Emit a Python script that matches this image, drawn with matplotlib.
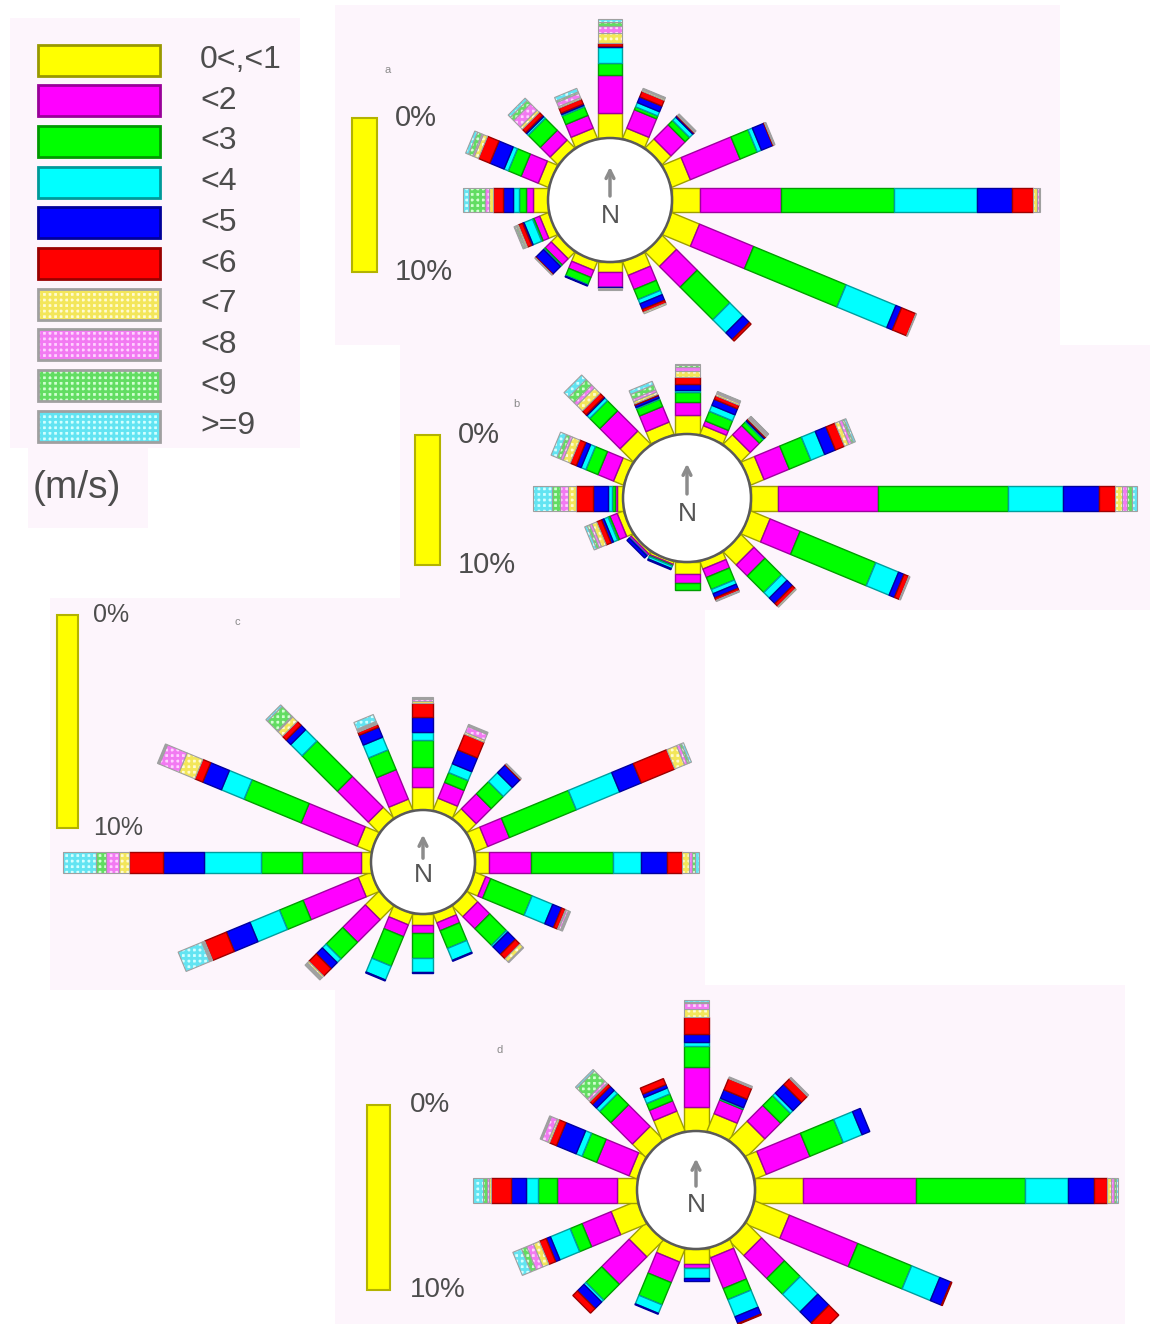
import matplotlib.pyplot as plt
import numpy as np
from matplotlib.colors import to_rgb
from matplotlib.patches import Polygon, Rectangle, Circle

plt.rcParams['font.family'] = ['Liberation Sans', 'DejaVu Sans']
plt.rcParams['hatch.linewidth'] = 2.0

# ---- data -------------------------------------------------------------
speed_classes = ['0<,<1', '<2', '<3', '<4', '<5', '<6', '<7', '<8', '<9', '>=9']
directions = ['N', 'NNE', 'NE', 'ENE', 'E', 'ESE', 'SE', 'SSE',
              'S', 'SSW', 'SW', 'WSW', 'W', 'WNW', 'NW', 'NNW']

# frequency (%) per direction, one column per speed class
rose_a = [
    [1.6, 2.5, 0.8, 1.0, 0.1, 0.2, 0.6, 0.5, 0.25, 0.2],
    [0.7, 1.3, 0.2, 0.3, 0.4, 0.4, 0.1, 0.05, 0.05, 0.0],
    [0.8, 1.3, 0.4, 0.3, 0.1, 0.05, 0.05, 0.05, 0.05, 0.0],
    [1.3, 3.5, 1.2, 0.3, 0.8, 0.05, 0.05, 0.05, 0.0, 0.0],
    [1.8, 5.3, 7.3, 5.4, 2.3, 1.35, 0.25, 0.1, 0.05, 0.05],
    [1.95, 3.8, 6.5, 3.5, 0.4, 1.0, 0.05, 0.0, 0.0, 0.0],
    [1.3, 1.9, 3.0, 1.2, 0.6, 0.15, 0.0, 0.0, 0.0, 0.0],
    [0.95, 1.0, 0.7, 0.3, 0.4, 0.2, 0.1, 0.0, 0.0, 0.0],
    [0.65, 0.95, 0.05, 0.0, 0.05, 0.0, 0.05, 0.05, 0.0, 0.0],
    [0.6, 0.5, 0.5, 0.05, 0.05, 0.0, 0.0, 0.0, 0.0, 0.0],
    [0.6, 0.55, 0.1, 0.05, 0.7, 0.05, 0.05, 0.0, 0.0, 0.0],
    [0.6, 0.4, 0.1, 0.6, 0.1, 0.3, 0.1, 0.05, 0.1, 0.05],
    [1.0, 0.4, 0.5, 0.4, 0.6, 0.7, 0.2, 0.3, 1.0, 0.4],
    [0.7, 1.2, 0.9, 0.3, 1.0, 0.8, 0.3, 0.1, 0.3, 0.2],
    [0.7, 0.9, 1.1, 0.15, 0.1, 0.3, 0.2, 0.6, 0.3, 0.2],
    [0.7, 0.9, 0.6, 0.1, 0.1, 0.35, 0.1, 0.3, 0.1, 0.25],
]
rose_b = [
    [1.45, 1.0, 0.75, 0.15, 0.5, 0.5, 0.5, 0.3, 0.15, 0.1],
    [0.7, 0.4, 0.8, 0.5, 0.5, 0.3, 0.15, 0.1, 0.05, 0.05],
    [1.0, 1.0, 0.4, 0.1, 0.1, 0.1, 0.1, 0.1, 0.05, 0.05],
    [1.1, 2.1, 1.8, 1.15, 0.9, 0.75, 0.35, 0.25, 0.15, 0.15],
    [2.1, 7.7, 10.0, 4.2, 2.8, 1.2, 0.5, 0.4, 0.4, 0.4],
    [1.6, 2.5, 6.3, 1.9, 0.45, 0.4, 0.05, 0.05, 0.0, 0.0],
    [1.4, 1.2, 1.8, 0.6, 0.6, 0.3, 0.1, 0.0, 0.0, 0.0],
    [0.6, 0.7, 1.0, 0.35, 0.35, 0.2, 0.05, 0.05, 0.0, 0.0],
    [0.9, 0.75, 0.5, 0.0, 0.0, 0.0, 0.0, 0.0, 0.0, 0.0],
    [0.2, 0.1, 0.05, 0.2, 0.1, 0.0, 0.0, 0.0, 0.0, 0.0],
    [0.2, 0.15, 0.0, 0.05, 0.25, 0.0, 0.0, 0.0, 0.0, 0.0],
    [0.5, 0.6, 0.15, 0.35, 0.2, 0.4, 0.4, 0.2, 0.2, 0.2],
    [0.5, 0.15, 0.2, 0.3, 1.15, 1.3, 0.65, 0.6, 0.65, 1.4],
    [0.8, 1.3, 1.0, 0.4, 0.4, 0.5, 0.6, 0.2, 0.3, 0.5],
    [1.4, 2.2, 1.1, 0.3, 0.1, 0.4, 0.6, 0.3, 0.6, 0.5],
    [1.0, 1.3, 0.6, 0.1, 0.2, 0.1, 0.2, 0.2, 0.4, 0.3],
]
rose_c = [
    [1.08, 0.94, 1.27, 0.38, 0.7, 0.66, 0.1, 0.1, 0.04, 0.04],
    [0.6, 0.8, 0.5, 0.45, 0.7, 0.8, 0.1, 0.3, 0.05, 0.05],
    [0.6, 1.0, 0.8, 0.6, 0.5, 0.05, 0.05, 0.0, 0.0, 0.0],
    [0.65, 1.1, 3.4, 2.2, 1.1, 1.7, 0.5, 0.15, 0.1, 0.1],
    [0.65, 2.0, 3.85, 1.3, 1.2, 0.7, 0.35, 0.15, 0.15, 0.15],
    [0.55, 0.25, 2.1, 1.05, 0.45, 0.2, 0.05, 0.1, 0.05, 0.05],
    [0.7, 0.8, 1.1, 0.1, 0.5, 0.3, 0.2, 0.05, 0.0, 0.0],
    [0.45, 0.4, 0.9, 0.6, 0.05, 0.0, 0.0, 0.0, 0.0, 0.0],
    [0.5, 0.4, 1.15, 0.65, 0.05, 0.0, 0.0, 0.0, 0.0, 0.0],
    [0.55, 0.6, 1.5, 0.7, 0.05, 0.0, 0.0, 0.0, 0.0, 0.0],
    [0.9, 1.5, 1.1, 0.25, 0.4, 0.5, 0.1, 0.05, 0.05, 0.05],
    [0.65, 2.8, 1.2, 1.5, 1.2, 1.1, 0.05, 0.05, 0.05, 1.2],
    [0.45, 2.8, 1.9, 2.7, 1.9, 1.6, 0.5, 0.6, 0.45, 1.55],
    [0.7, 2.85, 2.9, 1.15, 0.95, 0.4, 0.8, 1.0, 0.05, 0.05],
    [0.7, 2.05, 2.35, 0.75, 0.3, 0.25, 0.3, 0.05, 0.65, 0.1],
    [0.55, 1.5, 1.0, 0.65, 0.5, 0.15, 0.05, 0.05, 0.05, 0.35],
]
rose_d = [
    [1.3, 2.15, 1.15, 0.2, 0.45, 0.9, 0.45, 0.3, 0.1, 0.1],
    [1.0, 0.8, 0.05, 0.05, 0.5, 0.65, 0.05, 0.05, 0.0, 0.0],
    [1.4, 1.2, 0.75, 0.2, 0.65, 0.45, 0.05, 0.05, 0.0, 0.0],
    [0.65, 2.55, 1.95, 1.1, 0.45, 0.0, 0.0, 0.0, 0.0, 0.0],
    [2.6, 6.1, 5.9, 2.3, 1.45, 0.7, 0.2, 0.15, 0.1, 0.1],
    [2.0, 4.0, 3.15, 1.65, 0.65, 0.05, 0.0, 0.0, 0.0, 0.0],
    [1.15, 1.75, 1.2, 1.35, 0.85, 0.75, 0.0, 0.0, 0.0, 0.0],
    [0.5, 1.8, 0.65, 1.0, 0.4, 0.05, 0.0, 0.0, 0.0, 0.0],
    [0.8, 0.2, 0.05, 0.5, 0.2, 0.0, 0.0, 0.0, 0.0, 0.0],
    [0.75, 1.2, 1.3, 0.5, 0.05, 0.0, 0.0, 0.0, 0.0, 0.0],
    [1.25, 2.1, 1.2, 0.15, 0.5, 0.35, 0.0, 0.0, 0.0, 0.0],
    [1.5, 1.7, 0.7, 1.15, 0.25, 0.4, 0.35, 0.4, 0.3, 0.5],
    [1.1, 3.25, 1.0, 0.65, 0.8, 1.1, 0.1, 0.1, 0.2, 0.55],
    [0.45, 1.9, 0.85, 0.35, 1.15, 0.4, 0.1, 0.35, 0.05, 0.05],
    [1.0, 1.65, 0.85, 0.25, 0.3, 0.2, 0.05, 0.15, 0.8, 0.1],
    [1.15, 0.6, 0.4, 0.35, 0.2, 0.35, 0.0, 0.0, 0.0, 0.0],
]

# ---- styles -----------------------------------------------------------
class_face = ['#ffff00', '#ff00ff', '#00ff00', '#00ffff', '#0000ff', '#ff0000',
              '#fffbd2', '#ffd2ff', '#d2ffd2', '#d2ffff']
class_hatch = [None] * 6 + ['#f3e65a', '#f27af2', '#62dd62', '#62e4f2']
bg_pink = '#fdf5fc'
txt_col = '#4d4d4d'

W, H = 1151, 1324
fig = plt.figure(figsize=(W / 100, H / 100), dpi=100)
fig.patch.set_facecolor('white')


def darken(c, f=0.62):
    return tuple(np.array(to_rgb(c)) * f)


# background / legend layer in pixel coordinates
bg = fig.add_axes([0, 0, 1, 1])
bg.set_xlim(0, W)
bg.set_ylim(H, 0)
bg.axis('off')

boxes = [(10, 18, 300, 448), (28, 448, 148, 528), (335, 5, 1060, 345),
         (400, 345, 1150, 610), (50, 598, 705, 990), (335, 985, 1125, 1324)]
for x0, y0, x1, y1 in boxes:
    bg.add_patch(Rectangle((x0, y0), x1 - x0, y1 - y0, facecolor=bg_pink, edgecolor='none'))

# legend
for i, lab in enumerate(speed_classes):
    yc = 60 + 40.7 * i
    xy, w, h = (38, yc - 15.5), 122, 31
    if class_hatch[i]:
        bg.add_patch(Rectangle(xy, w, h, facecolor=class_face[i], edgecolor=class_hatch[i],
                               hatch='+++', lw=0))
        bg.add_patch(Rectangle(xy, w, h, fill=False, edgecolor='#a0a0a0', lw=2))
    else:
        bg.add_patch(Rectangle(xy, w, h, facecolor=class_face[i],
                               edgecolor=darken(class_face[i], 0.6), lw=2))
    bg.text(200, yc, lab, fontsize=23, color=txt_col, va='center', ha='left')
bg.text(33, 488, '(m/s)', fontsize=28, color=txt_col, va='center', ha='left')

# ---- panels -----------------------------------------------------------
panels = [
    dict(data=rose_a, box=(335, 5, 1060, 345), c=(610, 200), r0=62, s=15.4, w=24,
         bar_x=352, bar_w=25, bar_top=118, txt_x=395, fs=21, tag='a', tag_xy=(388, 70)),
    dict(data=rose_b, box=(400, 345, 1150, 610), c=(687, 498), r0=64, s=13.0, w=25,
         bar_x=415, bar_w=25, bar_top=435, txt_x=458, fs=21, tag='b', tag_xy=(516, 404)),
    dict(data=rose_c, box=(50, 598, 705, 990), c=(423, 862), r0=52, s=21.3, w=21,
         bar_x=57, bar_w=21, bar_top=615, txt_x=93, fs=18, tag='c', tag_xy=(237, 622)),
    dict(data=rose_d, box=(335, 985, 1125, 1324), c=(696, 1190), r0=59, s=18.5, w=25,
         bar_x=367, bar_w=23, bar_top=1105, txt_x=410, fs=20, tag='d', tag_xy=(500, 1050)),
]

for p in panels:
    x0, y0, x1, y1 = p['box']
    cx, cy = p['c']
    s = p['s']
    ax = fig.add_axes([x0 / W, 1 - y1 / H, (x1 - x0) / W, (y1 - y0) / H])
    ax.set_xlim((x0 - cx) / s, (x1 - cx) / s)
    ax.set_ylim((cy - y1) / s, (cy - y0) / s)
    ax.axis('off')

    r0 = p['r0'] / s
    hw = p['w'] / s / 2
    vals = np.array(p['data'])
    for j, name in enumerate(directions):
        th = np.deg2rad(22.5 * j)
        u = np.array([np.sin(th), np.cos(th)])
        v = np.array([np.cos(th), -np.sin(th)])
        edges = r0 + np.concatenate([[0], np.cumsum(vals[j])])
        for k in range(len(speed_classes)):
            if vals[j, k] <= 0:
                continue
            ra, rb = edges[k], edges[k + 1]
            pts = [ra * u - hw * v, rb * u - hw * v, rb * u + hw * v, ra * u + hw * v]
            if class_hatch[k]:
                ax.add_patch(Polygon(pts, closed=True, facecolor=class_face[k],
                                     edgecolor=class_hatch[k], hatch='+++', lw=0, clip_on=False))
                ax.add_patch(Polygon(pts, closed=True, fill=False, edgecolor='#a0a0a0',
                                     lw=0.8, clip_on=False))
            else:
                ax.add_patch(Polygon(pts, closed=True, facecolor=class_face[k],
                                     edgecolor=darken(class_face[k]), lw=1.0, clip_on=False))

    ax.add_patch(Circle((0, 0), r0, facecolor='white', edgecolor='#5a5a5a', lw=1.8, zorder=5))
    ax.annotate('', xy=(0, 0.58 * r0), xytext=(0, 0.02 * r0), zorder=6,
                arrowprops=dict(arrowstyle='->', color='#8c8c8c', lw=2.5, mutation_scale=14))
    ax.text(0, -0.25 * r0, 'N', fontsize=19, color='#555555', ha='center', va='center', zorder=6)

    # 10 % scale bar
    top = (cy - p['bar_top']) / s
    bx = (p['bar_x'] - cx) / s
    ax.add_patch(Rectangle((bx, top - 10), p['bar_w'] / s, 10, facecolor='#ffff00',
                           edgecolor=darken('#ffff00', 0.7), lw=1.5, clip_on=False))
    tx = (p['txt_x'] - cx) / s
    ax.text(tx, top, '0%', fontsize=p['fs'], color=txt_col, va='center', ha='left')
    ax.text(tx, top - 10, '10%', fontsize=p['fs'], color=txt_col, va='center', ha='left')

    bg.text(p['tag_xy'][0], p['tag_xy'][1], p['tag'], fontsize=8, color='#8a8a8a',
            ha='center', va='center')

fig.savefig('out.png', dpi=100, facecolor='white')
plt.close(fig)
